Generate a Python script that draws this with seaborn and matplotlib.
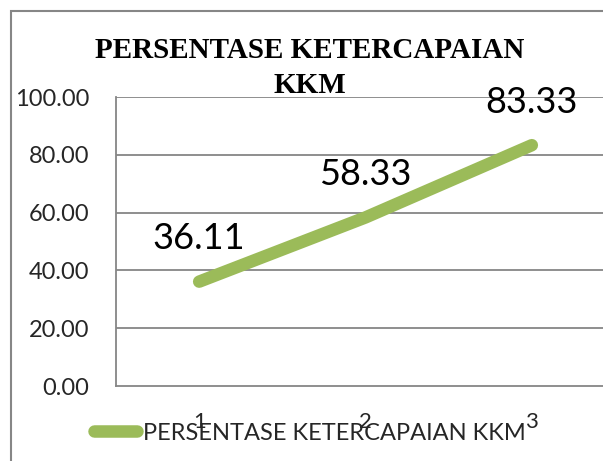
import numpy as np
import pandas as pd
import matplotlib
matplotlib.use("Agg")
import matplotlib.pyplot as plt
import seaborn as sns
from matplotlib.patches import Rectangle

# data
pertemuan = [1, 2, 3]
persentase = [36.11, 58.33, 83.33]
yticks = [0, 20, 40, 60, 80, 100]
judul = "PERSENTASE KETERCAPAIAN\nKKM"
seri = "PERSENTASE KETERCAPAIAN KKM"

df = pd.DataFrame({"x": pertemuan, "y": persentase})

sns.set_style("white")
plt.rcParams['font.family'] = ['Lato', 'DejaVu Sans']

W, H = 603, 461
fig = plt.figure(figsize=(W / 100, H / 100), dpi=100)
# plot area in pixels: left 116, top 97, bottom 386, right beyond the picture
ax = fig.add_axes([116 / W, (H - 386) / H, (615 - 116) / W, (386 - 97) / H])

green = "#9BBB59"
grid = "#868686"

sns.lineplot(data=df, x="x", y="y", ax=ax, color=green, linewidth=9,
             solid_capstyle="round", label=seri, legend=False)

ax.set_xlim(0.5, 3.5)
ax.set_ylim(0, 100)
ax.set_yticks(yticks)
ax.set_yticklabels([f"{v:.2f}" for v in yticks], fontsize=17)
ax.set_xticks(pertemuan)
ax.set_xticklabels([str(p) for p in pertemuan], fontsize=16)
ax.tick_params(axis="y", length=0, pad=19)
ax.tick_params(axis="x", length=0, pad=19)
ax.set_xlabel("")
ax.set_ylabel("")
for v in yticks[1:]:
    ax.axhline(v, color=grid, lw=1.3, zorder=0)
for s in ["left", "bottom"]:
    ax.spines[s].set_color(grid)
    ax.spines[s].set_linewidth(1.3)
ax.spines["top"].set_visible(False)
ax.spines["right"].set_visible(False)

# data labels
for xv, yv in zip(pertemuan, persentase):
    ax.annotate(f"{yv:.2f}", (xv, yv), xytext=(0, 31), textcoords="offset points",
                ha="center", va="center", fontsize=26, color="black")

# title
fig.text(310 / W, 1 - 68 / H, judul, ha="center", va="center",
         fontsize=21, fontweight="bold", family="Liberation Serif",
         linespacing=1.35, color="black")

# legend
handles, labels = ax.get_legend_handles_labels()
leg = fig.legend(handles, labels, loc="center", bbox_to_anchor=(310 / W, 1 - 433 / H),
                 frameon=False, fontsize=17, handlelength=1.8, handletextpad=0.25)

# chart border
fig.patches.append(Rectangle((11 / W, -0.05), 1.2, 1 - 11 / H + 0.05,
                             transform=fig.transFigure, fill=False,
                             edgecolor=grid, lw=1.5))

fig.savefig("out.png", dpi=100)
